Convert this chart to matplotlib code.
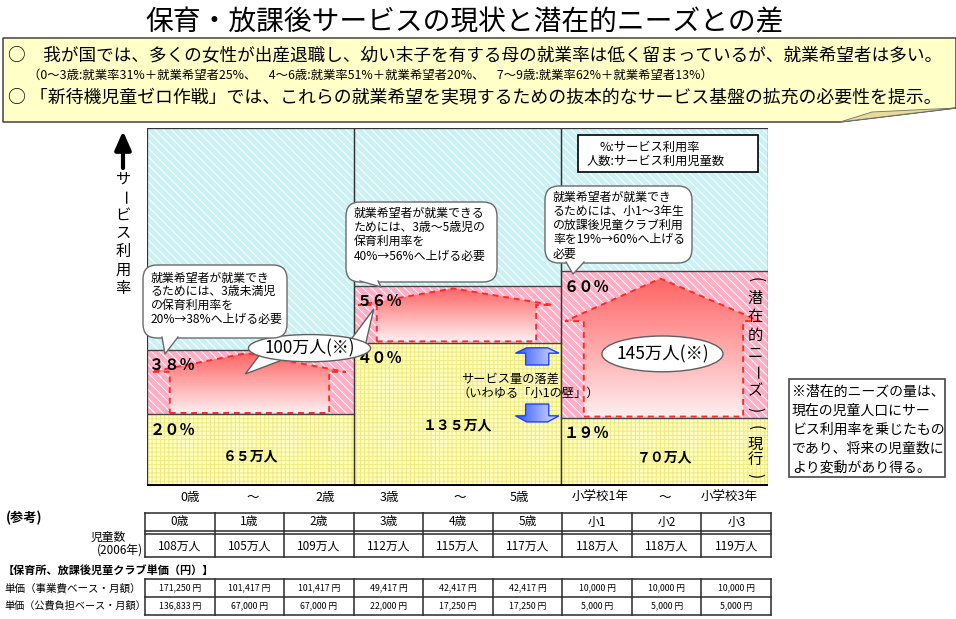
import numpy as np
import matplotlib.pyplot as plt
from matplotlib.patches import Rectangle, Polygon, Ellipse, FancyBboxPatch
from matplotlib.colors import LinearSegmentedColormap

plt.rcParams['font.family'] = ['Noto Sans CJK JP', 'DejaVu Sans']
plt.rcParams['hatch.linewidth'] = 0.7

# ---- chart values ----
col_ticks = [['0歳', '～', '2歳'], ['3歳', '～', '5歳'], ['小学校1年', '～', '小学校3年']]
current_rate = [20, 40, 19]        # % (現行)
target_rate = [38, 56, 60]         # % (潜在的ニーズ)
current_users = [65, 135, 70]      # 万人
needs_users = [100, 145]           # 万人 (0～5歳, 小1～3)

bubble_lines = [
    ['就業希望者が就業でき', 'るためには、3歳未満児', 'の保育利用率を', '20%→38%へ上げる必要'],
    ['就業希望者が就業できる', 'ためには、3歳～5歳児の', '保育利用率を', '40%→56%へ上げる必要'],
    ['就業希望者が就業でき', 'るためには、小1～3年生', 'の放課後児童クラブ利用', '率を19%→60%へ上げる', '必要'],
]
note_lines = ['※潜在的ニーズの量は、', '現在の児童人口にサー', 'ビス利用率を乗じたもの',
              'であり、将来の児童数に', 'より変動があり得る。']

# ---- reference tables ----
table_ages = ['0歳', '1歳', '2歳', '3歳', '4歳', '5歳', '小1', '小2', '小3']
table_children = [108, 105, 109, 112, 115, 117, 118, 118, 119]
cost_business = [171250, 101417, 101417, 49417, 42417, 42417, 10000, 10000, 10000]
cost_public = [136833, 67000, 67000, 22000, 17250, 17250, 5000, 5000, 5000]

title = '保育・放課後サービスの現状と潜在的ニーズとの差'
head1 = '○　我が国では、多くの女性が出産退職し、幼い末子を有する母の就業率は低く留まっているが、就業希望者は多い。'
head2 = '（0～3歳:就業率31%＋就業希望者25%、　4～6歳:就業率51%＋就業希望者20%、　7～9歳:就業率62%＋就業希望者13%）'
head3 = '○ 「新待機児童ゼロ作戦」では、これらの就業希望を実現するための抜本的なサービス基盤の拡充の必要性を提示。'

fw = str.maketrans('0123456789%', '０１２３４５６７８９％')
# characters turned for vertical writing
turned = {'(': -90, ')': -90, 'ー': -90}

W, H = 956, 619
fig = plt.figure(figsize=(W / 100, H / 100), dpi=100)
ax = fig.add_axes([147 / W, 1 - 486 / H, 621 / W, 358 / H])
ov = fig.add_axes([0, 0, 1, 1])
ov.set_xlim(0, W)
ov.set_ylim(H, 0)
ov.axis('off')


def fill_hatch(x, y0, y1, face, hatch, hcolor):
    ax.add_patch(Rectangle((x, y0), 1, y1 - y0, facecolor=face, edgecolor='none', zorder=1))
    ax.add_patch(Rectangle((x, y0), 1, y1 - y0, fill=False, hatch=hatch,
                           edgecolor=hcolor, linewidth=0, zorder=1.1))


# columns
for i in range(3):
    c, t = current_rate[i], target_rate[i]
    fill_hatch(i, t, 100, '#cbf1f5', '\\\\\\\\', 'white')
    fill_hatch(i, c, t, '#ffaec6', '\\\\\\\\', 'white')
    fill_hatch(i, 0, c, '#ffffc2', '++++', '#f0e880')
    ax.add_patch(Rectangle((i, 0), 1, 100, fill=False, edgecolor='#333333', lw=0.9, zorder=5))
    ax.plot([i, i + 1], [c, c], color='#444444', lw=1.0, zorder=5)
    ax.plot([i, i + 1], [t, t], color='#444444', lw=1.0, zorder=5)
ax.plot([0, 3], [0, 0], color='black', lw=2.8, zorder=6, solid_capstyle='butt')

# house-shaped arrows (gap current -> target)
house_cmap = LinearSegmentedColormap.from_list('house', ['#ffeef0', '#ff6464'])
grad = np.linspace(0, 1, 200).reshape(-1, 1)
for i in range(3):
    c, t = current_rate[i], target_rate[i]
    ye = c + 0.66 * (t - c)
    yp = c + 0.95 * (t - c)
    yb = c + 0.4
    pts = [(i + 0.11, yb), (i + 0.88, yb), (i + 0.88, ye), (i + 0.96, ye),
           (i + 0.48, yp), (i + 0.02, ye), (i + 0.11, ye)]
    outline = Polygon(pts, closed=True, fill=False, edgecolor='#ff2a2a', lw=1.4,
                      linestyle=(0, (3, 2.5)), zorder=4)
    ax.add_patch(outline)
    im = ax.imshow(grad, extent=(i, i + 1, yb, yp), origin='lower', cmap=house_cmap,
                   aspect='auto', zorder=3, interpolation='bilinear')
    im.set_clip_path(outline)

# percentage labels
for i in range(3):
    for r in (current_rate[i], target_rate[i]):
        ax.text(i + 0.012, r - 4.3, f'{r}%'.translate(fw), fontsize=11, fontweight='bold',
                ha='left', va='center', zorder=8)
    ax.text(i + 0.5, current_rate[i] * 0.42, f'{current_users[i]}'.translate(fw) + '万人',
            fontsize=10, fontweight='bold', ha='center', va='center', zorder=8)

# x labels
tick_off = [[0.21, 0.51, 0.86], [0.17, 0.51, 0.8], [0.19, 0.5, 0.81]]
for i in range(3):
    for off, lab in zip(tick_off[i], col_ticks[i]):
        ax.annotate(lab, xy=(i + off, 0), xytext=(0, -8), textcoords='offset points',
                    ha='center', va='center', fontsize=9, annotation_clip=False)

# potential needs callouts
ex, ey = 0.785, 38.5
ax.add_patch(Polygon([(0.57, 38.6), (0.645, 35.0), (0.475, 31.3)], closed=True,
                     facecolor='white', edgecolor='#606060', lw=1.0, zorder=9))
ax.add_patch(Polygon([(0.985, 40.9), (1.05, 38.2), (1.095, 49.4)], closed=True,
                     facecolor='white', edgecolor='#606060', lw=1.0, zorder=9))
ax.add_patch(Ellipse((ex, ey), 0.59, 7.6, facecolor='white', edgecolor='#606060', lw=1.0, zorder=10))
ax.text(ex, ey, f'{needs_users[0]}万人(※)', fontsize=12.2, ha='center', va='center', zorder=11)
ex3, ey3 = 2.49, (current_rate[2] + target_rate[2]) / 2 - 2.6
ax.add_patch(Ellipse((ex3, ey3), 0.585, 10, facecolor='white', edgecolor='#606060', lw=1.0, zorder=10))
ax.text(ex3, ey3, f'{needs_users[1]}万人(※)', fontsize=12.5, ha='center', va='center', zorder=11)

# blue arrows (小1の壁)
arrow_cmap = LinearSegmentedColormap.from_list('arr', ['#2f55ff', '#dde4ff'])
axc, hw, sw = 1.885, 0.105, 0.056
up_tip = current_rate[1] - 1.4
dn_tip = current_rate[2] - 1.1
arrows = [
    [(axc - sw, up_tip - 4.8), (axc + sw, up_tip - 4.8), (axc + sw, up_tip - 1.5), (axc + hw, up_tip - 1.5),
     (axc + sw * 0.9, up_tip), (axc - sw * 0.9, up_tip), (axc - hw, up_tip - 1.5), (axc - sw, up_tip - 1.5)],
    [(axc - sw, dn_tip + 5.0), (axc + sw, dn_tip + 5.0), (axc + sw, dn_tip + 1.7), (axc + hw, dn_tip + 1.7),
     (axc + sw * 0.9, dn_tip), (axc - sw * 0.9, dn_tip), (axc - hw, dn_tip + 1.7), (axc - sw, dn_tip + 1.7)],
]
hgrad = np.linspace(0, 1, 100).reshape(1, -1)
for pts in arrows:
    ys = [p[1] for p in pts]
    poly = Polygon(pts, closed=True, fill=False, edgecolor='#1f3fff', lw=1.0, zorder=7)
    ax.add_patch(poly)
    im = ax.imshow(hgrad, extent=(axc - hw, axc + hw, min(ys), max(ys)), cmap=arrow_cmap,
                   aspect='auto', zorder=6.5, interpolation='bilinear')
    im.set_clip_path(poly)
ax.text(1.52, 29.9, 'サービス量の落差', fontsize=8.8, ha='left', va='center', zorder=8)
ax.text(1.50, 26.0, '（いわゆる「小1の壁」）', fontsize=8.8, ha='left', va='center', zorder=8)


# vertical labels in third column
def vstack(chars, x, yc, step_pt, fs):
    n = len(chars)
    for k, ch in enumerate(chars):
        ax.annotate(ch, xy=(x, yc), xytext=(0, ((n - 1) / 2 - k) * step_pt),
                    textcoords='offset points', ha='center', va='center', fontsize=fs,
                    rotation=turned.get(ch, 0), rotation_mode='anchor', zorder=8)


vstack(list('(潜在的ニーズ)'), 2.937, (current_rate[2] + target_rate[2]) / 2, 13.3, 11)
vstack(list('(現行)'), 2.937, current_rate[2] / 2, 11.5, 11)

ax.set_xlim(0, 3)
ax.set_ylim(0, 100)
ax.axis('off')

# ---- overlay: title, header, annotations ----
ov.text(465, 22, title, fontsize=20, ha='center', va='center')
ov.add_patch(Polygon([(3, 38), (956, 38), (956, 108), (840, 122), (3, 122)], closed=True,
                     facecolor='#ffffc8', edgecolor='#303030', lw=1.0))
ov.add_patch(Polygon([(840, 122), (872, 112), (956, 108)], closed=True,
                     facecolor='#e6dc98', edgecolor='#707070', lw=0.6))
ov.text(8, 55, head1, fontsize=12.7, ha='left', va='center')
ov.text(28, 75, head2, fontsize=8.9, ha='left', va='center')
ov.text(8, 97, head3, fontsize=12.9, ha='left', va='center')

# y-axis label
ov.annotate('', xy=(123, 131), xytext=(123, 168),
            arrowprops=dict(arrowstyle='-|>,head_width=0.35,head_length=0.8', lw=3,
                            color='black', shrinkA=0, shrinkB=0, mutation_scale=14))
for k, ch in enumerate('サービス利用率'):
    ov.text(123, 179 + k * 18.2, ch, fontsize=11, ha='center', va='center',
            rotation=turned.get(ch, 0), rotation_mode='anchor')


def bubble(x, y, w, h, tail, lines, ty0, dy, fs=8.6):
    ov.add_patch(FancyBboxPatch((x, y), w, h, boxstyle='round,pad=0,rounding_size=14',
                                facecolor='white', edgecolor='#6a6a6a', lw=1.0, zorder=3))
    ov.add_patch(Polygon(tail, closed=True, facecolor='white', edgecolor='none', zorder=4))
    ov.plot([tail[0][0], tail[2][0], tail[1][0]], [tail[0][1], tail[2][1], tail[1][1]],
            color='#6a6a6a', lw=1.0, zorder=4)
    for k, s in enumerate(lines):
        ov.text(x + 8, ty0 + k * dy, s, fontsize=fs, ha='left', va='center', zorder=5)


bubble(143, 265, 144, 73, [(162, 337), (178, 337), (165, 354)], bubble_lines[0], 278, 13.8)
bubble(346, 202, 151, 80, [(360, 281), (378, 281), (381, 287)], bubble_lines[1], 213, 14.3)
bubble(545, 186, 147, 77, [(566, 262), (584, 262), (573, 274)], bubble_lines[2], 197, 14.3)

# legend box
ov.add_patch(Rectangle((578, 135), 180, 37, facecolor='white', edgecolor='black', lw=1.2, zorder=3))
ov.text(600, 147, '%:サービス利用率', fontsize=8.8, ha='left', va='center', zorder=4)
ov.text(587, 161, '人数:サービス利用児童数', fontsize=8.8, ha='left', va='center', zorder=4)

# note box
ov.add_patch(Rectangle((789, 379), 156, 98, facecolor='white', edgecolor='#555555', lw=1.3))
for k, s in enumerate(note_lines):
    ov.text(792, 392 + k * 18.8, s, fontsize=10, ha='left', va='center')

# ---- tables ----
tx0, tx1 = 145, 771
ncol = len(table_ages)
cw = (tx1 - tx0) / ncol
lc = '#2a2a2a'
ov.text(6, 518, '(参考)', fontsize=9.5, fontweight='bold', ha='left', va='center')
ov.text(108, 537, '児童数', fontsize=8.5, ha='center', va='center')
ov.text(143, 550, '(2006年)', fontsize=8.5, ha='right', va='center')
for xx in np.linspace(tx0, tx1, ncol + 1):
    ov.plot([xx, xx], [513, 557], color=lc, lw=1.1)
for yy in [513, 530.5, 533.5, 557]:
    ov.plot([tx0, tx1], [yy, yy], color=lc, lw=1.1)
for k in range(ncol):
    cx = tx0 + (k + 0.5) * cw
    ov.text(cx, 522, table_ages[k], fontsize=8.5, ha='center', va='center')
    ov.text(cx, 546, f'{table_children[k]}万人', fontsize=8.5, ha='center', va='center')

ov.text(3, 571, '【保育所、放課後児童クラブ単価（円）】', fontsize=8, fontweight='bold',
        ha='left', va='center')
ov.text(4, 588, '単価（事業費ベース・月額）', fontsize=7.6, ha='left', va='center')
ov.text(4, 606, '単価（公費負担ベース・月額）', fontsize=7.3, ha='left', va='center')
for xx in np.linspace(tx0, tx1, ncol + 1):
    ov.plot([xx, xx], [579, 615], color=lc, lw=1.1)
for yy in [579, 597, 615]:
    ov.plot([tx0, tx1], [yy, yy], color=lc, lw=1.1)
for k in range(ncol):
    cx = tx0 + (k + 0.5) * cw
    ov.text(cx, 588, f'{cost_business[k]:,} 円', fontsize=6.3, ha='center', va='center')
    ov.text(cx, 606, f'{cost_public[k]:,} 円', fontsize=6.3, ha='center', va='center')

fig.savefig('out.png', dpi=100)
